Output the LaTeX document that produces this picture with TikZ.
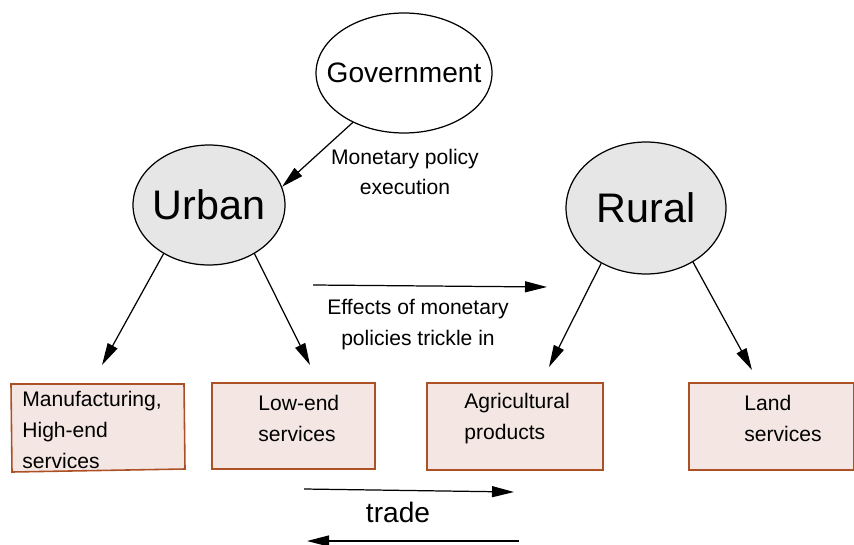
\documentclass[tikz,border=0pt]{standalone}
\usepackage{fontspec}
\setmainfont{Liberation Sans}
\usepackage{tikz}
\usetikzlibrary{shapes}
\usetikzlibrary{arrows.meta}
\usepackage{xcolor}
\definecolor{sectorgray}{RGB}{230,230,230}
\definecolor{goodfill}{RGB}{244,231,227}
\definecolor{goodline}{RGB}{172,80,38}

\begin{document}
\begin{tikzpicture}[x=0.02cm,y=-0.02cm,
  sector/.style={ellipse,draw,fill=sectorgray,inner sep=0,line width=.7pt,font=\fontsize{23.5}{28}\selectfont},
  goodbox/.style={draw=goodline,fill=goodfill,line width=.9pt,inner sep=0},
  goodtxt/.style={anchor=north west,inner sep=0,align=left,font=\fontsize{12}{17.6}\selectfont},
  flow/.style={-{Triangle[length=4.4mm,width=2.2mm]},line width=.7pt}]
\useasboundingbox (0,0) rectangle (854,544);
\node[ellipse,draw,inner ysep=0,inner xsep=-.31cm,line width=.7pt,minimum width=3.52cm,minimum height=2.4cm,font=\fontsize{16}{19}\selectfont] (gov) at (404,73) {Government};
\node[sector,inner xsep=-.06cm,minimum width=3.04cm,minimum height=2.4cm] (urban) at (209,205) {Urban};
\node[sector,minimum width=3.2cm,minimum height=2.64cm] (rural) at (646,208) {Rural};
\draw[flow] (gov.224)--(urban.14);
\node[align=center,font=\fontsize{12}{17.6}\selectfont] (exec) at (405,172) {Monetary policy\\execution};
\coordinate (eff1) at (313,285);
\coordinate (eff2) at (547,287);
\draw[flow] (eff1)--(eff2);
\node[align=center,font=\fontsize{12}{17.6}\selectfont] (trickle) at (418,325) {Effects of monetary\\policies trickle in};
\filldraw[goodbox] (11,384)--(184,384)--(185,469)--(12,472)--cycle;
\node[goodtxt] (mfg) at (22,391) {Manufacturing,\\High-end\\services};
\node[goodbox,minimum width=3.26cm,minimum height=1.72cm] (low) at (293.5,426) {};
\node[goodtxt] at (258,395) {Low-end\\services};
\node[goodbox,minimum width=3.52cm,minimum height=1.74cm] (agri) at (515,426.5) {};
\node[goodtxt] at (464,393) {Agricultural\\products};
\node[goodbox,minimum width=3.3cm,minimum height=1.74cm] (land) at (771.5,426.5) {};
\node[goodtxt] at (744,395) {Land\\services};
\coordinate (mfgtop) at (102,365);
\coordinate (lowtop) at (310,365);
\coordinate (agritop) at (549,367);
\coordinate (landtop) at (752,370);
\draw[flow] (urban.227)--(mfgtop);
\draw[flow] (urban.313)--(lowtop);
\draw[flow] (rural.231)--(agritop);
\draw[flow] (rural.311)--(landtop);
\coordinate (tr1) at (304,489);
\coordinate (tr2) at (514,492);
\coordinate (tr3) at (519,541);
\coordinate (tr4) at (307,541);
\draw[flow] (tr1)--(tr2);
\draw[flow] (tr3)--(tr4);
\node[font=\fontsize{16}{19}\selectfont] (trade) at (398,512) {trade};
\end{tikzpicture}
\end{document}
